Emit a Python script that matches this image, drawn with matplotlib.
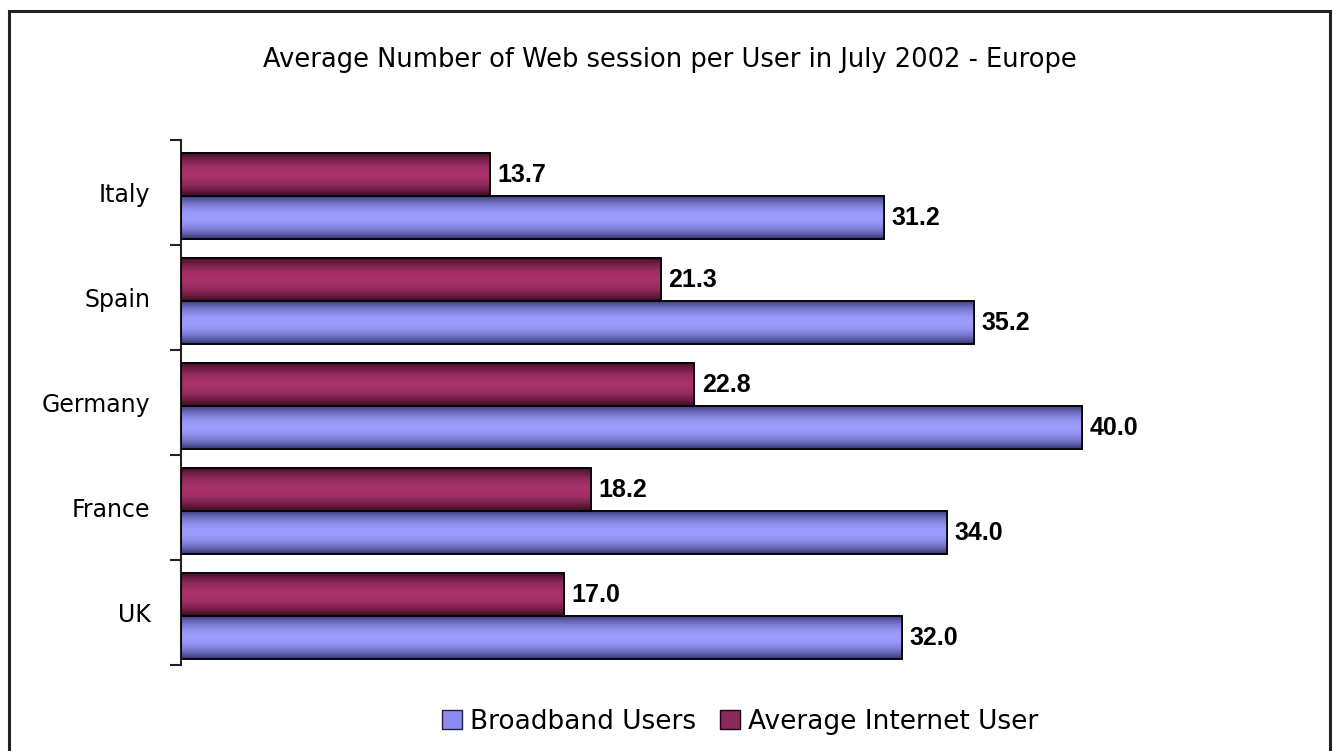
import numpy as np
import matplotlib
matplotlib.use("Agg")
import matplotlib.pyplot as plt
from matplotlib.patches import Rectangle

# data (bottom to top as drawn)
countries = ["UK", "France", "Germany", "Spain", "Italy"]
broadband = [32.0, 34.0, 40.0, 35.2, 31.2]
average_user = [17.0, 18.2, 22.8, 21.3, 13.7]

title = "Average Number of Web session per User in July 2002 - Europe"
legend_labels = ["Broadband Users", "Average Internet User"]

W, H = 1333, 751
fig = plt.figure(figsize=(W / 100, H / 100), dpi=100)
fig.patch.set_facecolor("white")

# chart border (bottom edge runs off the image)
fig.patches.append(Rectangle((9 / W, -0.05), 1321 / W, 1.05 - 11 / H,
                             transform=fig.transFigure, fill=False,
                             edgecolor="#222222", linewidth=2.2))

ax = fig.add_axes([181 / W, 86 / H, 1126 / W, 525 / H])

bh = 0.41
shift = -0.035
y = np.arange(len(countries))


def shade(dark, light, n=64):
    # vertical cylinder-like shading: dark edges, light centre
    t = np.linspace(0, 1, n)
    k = np.sin(np.pi * t) ** 0.8
    dark = np.array(matplotlib.colors.to_rgb(dark))
    light = np.array(matplotlib.colors.to_rgb(light))
    g = dark[None, :] * (1 - k[:, None]) + light[None, :] * k[:, None]
    return g[:, None, :]


blue_grad = shade("#30306a", "#9c9cff")
maroon_grad = shade("#36081f", "#a8326a")

bars_b = ax.barh(y - bh / 2 + shift, broadband, height=bh, color="#9999ff",
                 edgecolor="black", linewidth=1.2, zorder=2)
bars_a = ax.barh(y + bh / 2 + shift, average_user, height=bh, color="#993366",
                 edgecolor="black", linewidth=1.2, zorder=2)

for bars, grad in [(bars_b, blue_grad), (bars_a, maroon_grad)]:
    for p in bars:
        x0, y0, w, h = p.get_x(), p.get_y(), p.get_width(), p.get_height()
        im = ax.imshow(grad, extent=[x0, x0 + w, y0, y0 + h], origin="lower",
                       aspect="auto", interpolation="bilinear", zorder=2.5)
        im.set_clip_path(p)
        outline = Rectangle((x0, y0), w, h, fill=False, edgecolor="black",
                            linewidth=1.2, zorder=3)
        ax.add_patch(outline)

for vals, off in [(broadband, -bh / 2 + shift), (average_user, bh / 2 + shift)]:
    for i, v in enumerate(vals):
        ax.text(v + 0.35, i + off, f"{v:.1f}", va="center", ha="left",
                fontsize=18, fontweight="bold", family="Liberation Sans",
                color="black")

ax.set_xlim(0, 50)
ax.set_ylim(-0.5, len(countries) - 0.5)

for s in ["top", "right", "bottom"]:
    ax.spines[s].set_visible(False)
ax.spines["left"].set_linewidth(1.5)
ax.spines["left"].set_color("#222222")
ax.set_xticks([])

ax.set_yticks(np.arange(-0.5, len(countries), 1.0))
ax.set_yticklabels([])
ax.tick_params(axis="y", which="major", length=8, width=1.5, color="#222222")
ax.set_yticks(y, minor=True)
ax.set_yticklabels(countries, minor=True, fontsize=17, family="DejaVu Sans")
ax.tick_params(axis="y", which="minor", length=0, pad=22)

fig.text(670 / W, 1 - 60 / H, title, ha="center", va="center",
         fontsize=18.5, family="DejaVu Sans")

handles = [Rectangle((0, 0), 1, 1, facecolor="#8a8af0", edgecolor="#202040"),
           Rectangle((0, 0), 1, 1, facecolor="#8a2a5a", edgecolor="#200010")]
fig.legend(handles, legend_labels, loc="center", bbox_to_anchor=(740 / W, 1 - 722 / H),
           ncol=2, frameon=False, prop={"family": "DejaVu Sans", "size": 19},
           handlelength=0.75, handleheight=0.75, handletextpad=0.3, columnspacing=0.9)

fig.savefig("out.png", dpi=100)
